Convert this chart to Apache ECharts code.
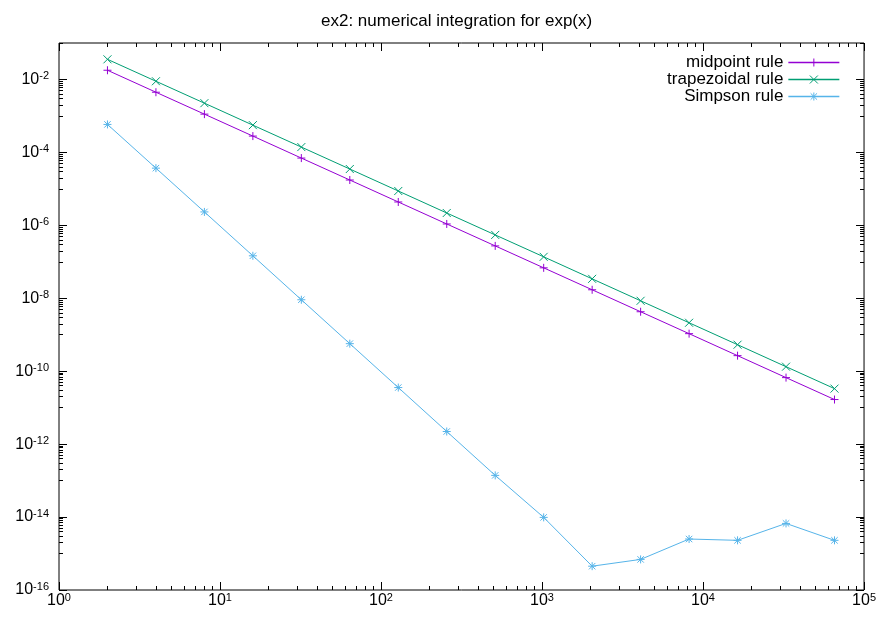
<!DOCTYPE html>
<html><head><meta charset="utf-8">
<script src="https://cdn.jsdelivr.net/npm/echarts@6/dist/echarts.min.js"></script>
<style>html,body{margin:0;padding:0;background:#fff}#c{width:879px;height:618px}</style>
</head><body><div id="c"></div>
<script>
// ---- data ----
const nValues = [2, 4, 8, 16, 32, 64, 128, 256, 512, 1024, 2048, 4096, 8192, 16384, 32768, 65536];
const midpointErr = [1.79e-2, 4.47e-3, 1.12e-3, 2.80e-4, 6.99e-5, 1.75e-5, 4.37e-6, 1.09e-6, 2.73e-7, 6.83e-8, 1.71e-8, 4.27e-9, 1.07e-9, 2.67e-10, 6.67e-11, 1.67e-11];
const trapezoidalErr = [3.57e-2, 8.94e-3, 2.24e-3, 5.59e-4, 1.40e-4, 3.50e-5, 8.74e-6, 2.18e-6, 5.46e-7, 1.37e-7, 3.41e-8, 8.53e-9, 2.13e-9, 5.33e-10, 1.33e-10, 3.33e-11];
const simpsonErr = [5.85e-4, 3.70e-5, 2.33e-6, 1.46e-7, 9.10e-9, 5.69e-10, 3.56e-11, 2.22e-12, 1.39e-13, 9.8e-15, 4.5e-16, 6.9e-16, 2.5e-15, 2.3e-15, 6.7e-15, 2.3e-15];
const seriesNames = ['midpoint rule', 'trapezoidal rule', 'Simpson rule'];
const titleText = 'ex2: numerical integration for exp(x)';
const xMajorTicks = [1, 10, 100, 1000, 10000, 100000];
const yMajorTicks = [1e-16, 1e-14, 1e-12, 1e-10, 1e-8, 1e-6, 1e-4, 1e-2];
const xMin = 1, xMax = 1e5, yMin = 1e-16, yMax = 1e-1;

// minor tick values (axis decoration)
const xMinorTicks = [];
for (let e = 0; e < 5; e++) for (let m = 2; m <= 9; m++) xMinorTicks.push(m * Math.pow(10, e));
const yMinorTicks = [];
for (let e = -15; e <= -1; e += 2) for (let m = 1; m <= 9; m++) { const v = m * Math.pow(10, e); if (v <= yMax * 1.0001) yMinorTicks.push(v); }

const FONT = 'Liberation Sans, Arial, Helvetica, sans-serif';
const colors = ['#9400d3', '#009e73', '#56b4e9'];
const symPlus = 'path://M0,5L10,5M5,0L5,10';
const symCross = 'path://M0,0L10,10M0,10L10,0';
const symStar = 'path://M0,5L10,5M5,0L5,10M1,1L9,9M1,9L9,1';

function expFmt(v) {
  const e = Math.round(Math.log10(v));
  return '{b|10}{s|' + e + '}';
}
const rich = {
  b: { fontSize: 16, fontFamily: FONT, color: '#000', lineHeight: 18 },
  s: { fontSize: 11, fontFamily: FONT, color: '#000', verticalAlign: 'top', lineHeight: 18, padding: [0, 0, 6, 0] }
};

function axis(kind, pos, ticks, len, labels) {
  const isX = kind === 'x';
  return {
    type: 'log', logBase: 10,
    min: isX ? xMin : yMin, max: isX ? xMax : yMax,
    position: pos,
    axisLine: { show: false },
    splitLine: { show: false },
    minorTick: { show: false },
    axisTick: { show: true, inside: true, length: len, customValues: ticks, lineStyle: { color: '#000', width: 1 } },
    axisLabel: labels ? { show: true, customValues: ticks, formatter: expFmt, rich: rich, margin: isX ? 2 : 10 } : { show: false }
  };
}

function series(i, data, sym) {
  return {
    name: seriesNames[i], type: 'line',
    xAxisIndex: 0, yAxisIndex: 0,
    data: nValues.map((n, k) => [n, data[k]]),
    symbol: sym, symbolSize: 8, showSymbol: true,
    lineStyle: { color: colors[i], width: 1 },
    itemStyle: { color: 'none', borderColor: colors[i], borderWidth: 1 },
    emphasis: { disabled: true }
  };
}

const chart = echarts.init(document.getElementById('c'), null, { renderer: 'canvas' });
chart.setOption({
  animation: false,
  backgroundColor: '#fff',
  title: { text: titleText, left: 316, top: 8, textStyle: { fontSize: 17, fontWeight: 'normal', color: '#000', fontFamily: FONT } },
  grid: { left: 59, right: 13, top: 43, bottom: 28, show: true, borderColor: '#000', borderWidth: 1, backgroundColor: 'transparent' },
  legend: {
    orient: 'vertical', right: 34, top: 49, align: 'right',
    itemWidth: 51, itemHeight: 10, itemGap: 0,
    textStyle: { fontSize: 17, fontFamily: FONT, color: '#000', padding: [0, 0, 0, 0], lineHeight: 17 },
    data: seriesNames.map((name, i) => ({
      name: name,
      lineStyle: { color: colors[i], width: 1.3 },
      itemStyle: { color: 'none', borderColor: colors[i], borderWidth: 1 }
    }))
  },
  xAxis: [
    axis('x', 'bottom', xMajorTicks, 8, true),
    axis('x', 'bottom', xMinorTicks, 4, false),
    axis('x', 'top', xMajorTicks, 8, false),
    axis('x', 'top', xMinorTicks, 4, false)
  ],
  yAxis: [
    axis('y', 'left', yMajorTicks, 8, true),
    axis('y', 'left', yMinorTicks, 4, false),
    axis('y', 'right', yMajorTicks, 8, false),
    axis('y', 'right', yMinorTicks, 4, false)
  ],
  series: [
    series(0, midpointErr, symPlus),
    series(1, trapezoidalErr, symCross),
    series(2, simpsonErr, symStar)
  ]
});
</script></body></html>
